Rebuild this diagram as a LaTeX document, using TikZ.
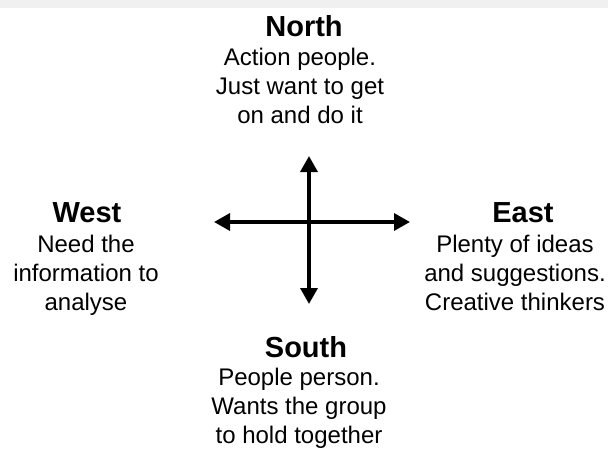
\documentclass[tikz,border=0pt]{standalone}
\usepackage{fontspec}
\setmainfont{Liberation Sans}
\usetikzlibrary{arrows.meta}
\begin{document}
\begin{tikzpicture}[x=1pt,y=-1pt,
  heading/.style={font=\fontsize{29}{34}\selectfont\bfseries, inner sep=0pt, anchor=base},
  blurb/.style={font=\fontsize{24}{29}\selectfont, inner sep=0pt, align=center, anchor=base},
  compass/.style={line width=3.5pt, {Triangle[length=16pt,width=17pt]}-{Triangle[length=16pt,width=17pt]}}]
  % page frame and the pale band along the top edge
  \useasboundingbox (0,0) rectangle (608,448);
  \fill[black!6] (0,0) rectangle (608,8);

  % the cross of arrows
  \coordinate (up) at (309,156);
  \coordinate (down) at (309,304);
  \coordinate (left) at (214,222);
  \coordinate (right) at (410,222);
  \draw[compass] (up) -- (down);
  \draw[compass] (left) -- (right);

  % the four compass points (each blurb sits on the baseline of its last line)
  \node[heading] (northhead) at (304,36) {North};
  \node[blurb] (northtext) at (300,123) {Action people.\\Just want to get\\on and do it};

  \node[heading] (westhead) at (87,222) {West};
  \node[blurb] (westtext) at (86,310) {Need the\\information to\\analyse};

  \node[heading] (easthead) at (523,222) {East};
  \node[blurb] (easttext) at (515,310) {Plenty of ideas\\and suggestions.\\Creative thinkers};

  \node[heading] (southhead) at (306,357) {South};
  \node[blurb] (southtext) at (299,443) {People person.\\Wants the group\\to hold together};
\end{tikzpicture}
\end{document}
